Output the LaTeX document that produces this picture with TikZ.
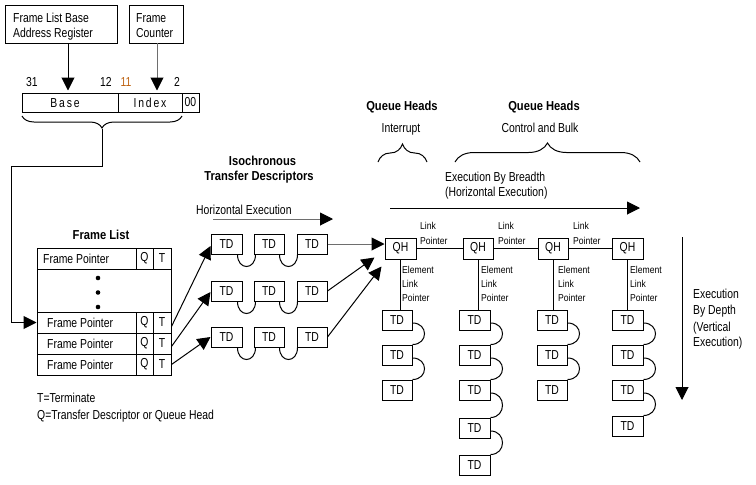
\documentclass[tikz,border=0pt]{standalone}
\usepackage{fontspec}
\setmainfont{Liberation Sans}[FakeStretch=0.8]
\newfontfamily\spfont{Liberation Sans}[FakeStretch=0.8, LetterSpace=14]
\newfontfamily\smfont{Liberation Sans}[FakeStretch=0.86]
\newfontfamily\ttfnt{Liberation Sans}[FakeStretch=0.86]
\usetikzlibrary{arrows.meta,decorations.pathreplacing,calc}
\definecolor{orn}{RGB}{190,100,20}
\definecolor{lgray}{RGB}{110,110,110}
\begin{document}
\begin{tikzpicture}[x=1pt,y=-1pt,
  lbl/.style={inner sep=0pt, text height=9.3pt, text depth=0pt, font=\fontsize{13}{15}\selectfont, anchor=west},
  clbl/.style={lbl, anchor=center},
  small/.style={inner sep=0pt, text height=7.2pt, text depth=0pt, font=\fontsize{10}{12}\smfont, anchor=west},
  ttl/.style={inner sep=0pt, text height=9.3pt, text depth=0pt, font=\fontsize{13}{15}\ttfnt\bfseries, anchor=center},
  box/.style={draw, line width=1pt, inner sep=0pt, font=\fontsize{13}{15}\selectfont},
  tdbox/.style={box, minimum width=30, minimum height=20},
  arr/.style={line width=1pt, -{Triangle[length=13pt,width=13pt]}},
  garr/.style={line width=1pt, draw=lgray, -{Triangle[length=13pt,width=13pt,black]}},
  ln/.style={line width=1pt},
]
\useasboundingbox (0,0) rectangle (756,485);

% top boxes
\node[box, minimum width=112, minimum height=38] (flbar) at (61,24) {};
\node[lbl] (flbar1) at (13,17.5) {Frame List Base};
\node[lbl] (flbar2) at (13,33.3) {Address Register};
\node[box, minimum width=54, minimum height=38] (fc) at (156,24) {};
\node[lbl] (fc1) at (136,17.5) {Frame};
\node[lbl] (fc2) at (136,33.3) {Counter};

% register
\node[box, minimum width=96, minimum height=19] (basecell) at (70,102.5) {};
\node[clbl, font=\fontsize{13}{15}\spfont] (basetxt) at (65,102.5) {Base};
\node[box, minimum width=64, minimum height=19] (idx) at (150,102.5) {};
\node[clbl, font=\fontsize{13}{15}\spfont] (idxtxt) at (150,102.5) {Index};
\node[box, minimum width=17, minimum height=19] (zero) at (190.5,102.5) {00};

\node[clbl] (n31) at (32,82) {31};
\node[clbl] (n12) at (106,82) {12};
\node[clbl, text=orn] (n11) at (126,82) {11};
\node[clbl] (n2) at (177,82) {2};

\coordinate (a1s) at (68,43);
\coordinate (a2s) at (157,43);
\draw[arr, shorten >=2pt] (a1s) -- (a1s |- basecell.north);
\draw[garr, shorten >=2pt] (a2s) -- (a2s |- idx.north);

% brace under register
\coordinate (bl) at (22,116);
\coordinate (br) at (182,116);
\coordinate (btip) at (102,129);
\draw[ln, decorate, decoration={brace, amplitude=12pt, mirror}] (bl) -- (br);

% frame list
\node[ttl] (fltitle) at (101,235) {Frame List};
\node[box, minimum width=99, minimum height=21] (fp1) at (86.5,258.5) {};
\node[box, minimum width=17, minimum height=21] (q1) at (144.5,258.5) {Q};
\node[box, minimum width=18, minimum height=21] (t1) at (162,258.5) {T};
\node[lbl] (fp1t) at (43,258.5) {Frame Pointer};
\node[box, minimum width=134, minimum height=43] (dots) at (104,290.5) {};
\fill (98,278) circle[radius=2.3];
\fill (98,292.5) circle[radius=2.3];
\fill (98,307) circle[radius=2.3];
\foreach \i/\y in {2/322.5,3/343.5,4/364.5}{
  \node[box, minimum width=99, minimum height=21] (fp\i) at (86.5,\y) {};
  \node[box, minimum width=17, minimum height=21] (q\i) at (144.5,\y) {Q};
  \node[box, minimum width=18, minimum height=21] (t\i) at (162,\y) {T};
  \node[lbl] (fp\i t) at (47,\y) {Frame Pointer};
}
\node[lbl] (leg1) at (37,397.5) {T=Terminate};
\node[lbl] (leg2) at (37,415) {Q=Transfer Descriptor or Queue Head};

\draw[arr] (btip) -- (102,166) -| ($(fp2.west)+(-25,0)$) -- (fp2.west);

% isochronous TDs
\node[ttl] (isot1) at (262.5,161) {Isochronous};
\node[ttl] (isot2) at (259,176) {Transfer Descriptors};
\node[lbl] (hexec) at (196,209.5) {Horizontal Execution};
\coordinate (he1) at (213,219);
\coordinate (he2) at (333,219);
\draw[garr] (he1) -- (he2);

\foreach \r/\y in {1/244,2/291,3/337}{
  \node[tdbox, minimum width=31] (td\r1) at (226.5,\y) {TD};
  \node[tdbox] (td\r2) at (269,\y) {TD};
  \node[tdbox] (td\r3) at (312,\y) {TD};
  \draw[ln] ($(td\r1.south east)+(-5,0)$) .. controls +(0,16) and +(0,16) .. ($(td\r2.south west)+(2,0)$);
  \draw[ln] ($(td\r2.south east)+(-5,0)$) .. controls +(0,16) and +(0,16) .. ($(td\r3.south west)+(1,0)$);
}

\draw[arr] ($(t2.east)+(0,4)$) -- ($(td11.west)+(0,2)$);
\draw[arr] ($(t3.east)+(0,3)$) -- ($(td21.west)+(0,1)$);
\draw[arr] (t4.east) -- (td31.west);

% queue heads
\node[ttl] (qhh1) at (402,106) {Queue Heads};
\node[clbl] (intr) at (401,127.5) {Interrupt};
\node[ttl] (qhh2) at (544,106) {Queue Heads};
\node[clbl] (cab) at (540,127.5) {Control and Bulk};
\draw[ln, decorate, decoration={brace, amplitude=18pt}] (378,162) -- (427,162);
\draw[ln, decorate, decoration={brace, amplitude=19pt}] (455,162) -- (640,162);

\node[lbl] (ebb1) at (445,177) {Execution By Breadth};
\node[lbl] (ebb2) at (445,192) {(Horizontal Execution)};
\coordinate (hb1) at (390,208);
\coordinate (hb2) at (640,208);
\draw[arr] (hb1) -- (hb2);

\node[box, minimum width=31, minimum height=21] (qh1) at (400.5,248.5) {QH};
\node[box, minimum width=30, minimum height=21] (qh2) at (478,248.5) {QH};
\node[box, minimum width=30, minimum height=21] (qh3) at (553,248.5) {QH};
\node[box, minimum width=31, minimum height=21] (qh4) at (627.5,248.5) {QH};
\draw[ln] (qh1.east) -- (qh2.west);
\draw[ln] (qh2.east) -- (qh3.west);
\draw[ln] (qh3.east) -- (qh4.west);

\foreach \k/\x in {1/420,2/498,3/573}{
  \node[small] (lpa\k) at (\x,226) {Link};
  \node[small] (lpb\k) at (\x,241) {Pointer};
}
\foreach \k/\x in {1/402,2/481,3/558,4/630}{
  \node[small] (ela\k) at (\x,269.5) {Element};
  \node[small] (elb\k) at (\x,283.5) {Link};
  \node[small] (elc\k) at (\x,297.5) {Pointer};
}

\coordinate (tip2) at ($(qh1.south west)+(-10,-2)$);
\coordinate (tip3) at ($(qh1.south west)+(-3,7)$);
\draw[garr] (td13.east) -- (td13.east -| qh1.west);
\draw[arr] (td23.east) -- (tip2);
\draw[arr] (td33.east) -- (tip3);

% TD columns
\foreach \i/\y in {1/320,2/355,3/390}{
  \node[tdbox] (ca\i) at (397,\y) {TD};
  \node[tdbox] (cc\i) at (552,\y) {TD};
}
\foreach \i/\y in {1/320,2/355,3/390,4/428,5/465}{
  \node[tdbox, minimum width=31] (cb\i) at (474.5,\y) {TD};
}
\foreach \i/\y in {1/320,2/355,3/390,4/426}{
  \node[tdbox, minimum width=31] (cd\i) at (627.5,\y) {TD};
}
\draw[ln] (qh1.south) -- (qh1.south |- ca1.north);
\draw[ln] (qh2.south) -- (qh2.south |- cb1.north);
\draw[ln] (qh3.south) -- (qh3.south |- cc1.north);
\draw[ln] (qh4.south) -- (qh4.south |- cd1.north);
\foreach \c/\n in {ca/3,cb/5,cc/3,cd/4}{
  \foreach \i [evaluate=\i as \j using int(\i+1)] in {1,...,\n}{
    \ifnum\i<\n
      \draw[ln] ($(\c\i.east)+(0,3)$) .. controls +(16,0) and +(16,0) .. (\c\j.north east);
    \fi
  }
}

% depth arrow
\coordinate (vd1) at (682,237);
\coordinate (vd2) at (682,400);
\draw[arr] (vd1) -- (vd2);
\node[lbl] (ebd1) at (693,294) {Execution};
\node[lbl] (ebd2) at (693,310) {By Depth};
\node[lbl] (ebd3) at (693,327) {(Vertical};
\node[lbl] (ebd4) at (693,342) {Execution)};
\end{tikzpicture}
\end{document}
